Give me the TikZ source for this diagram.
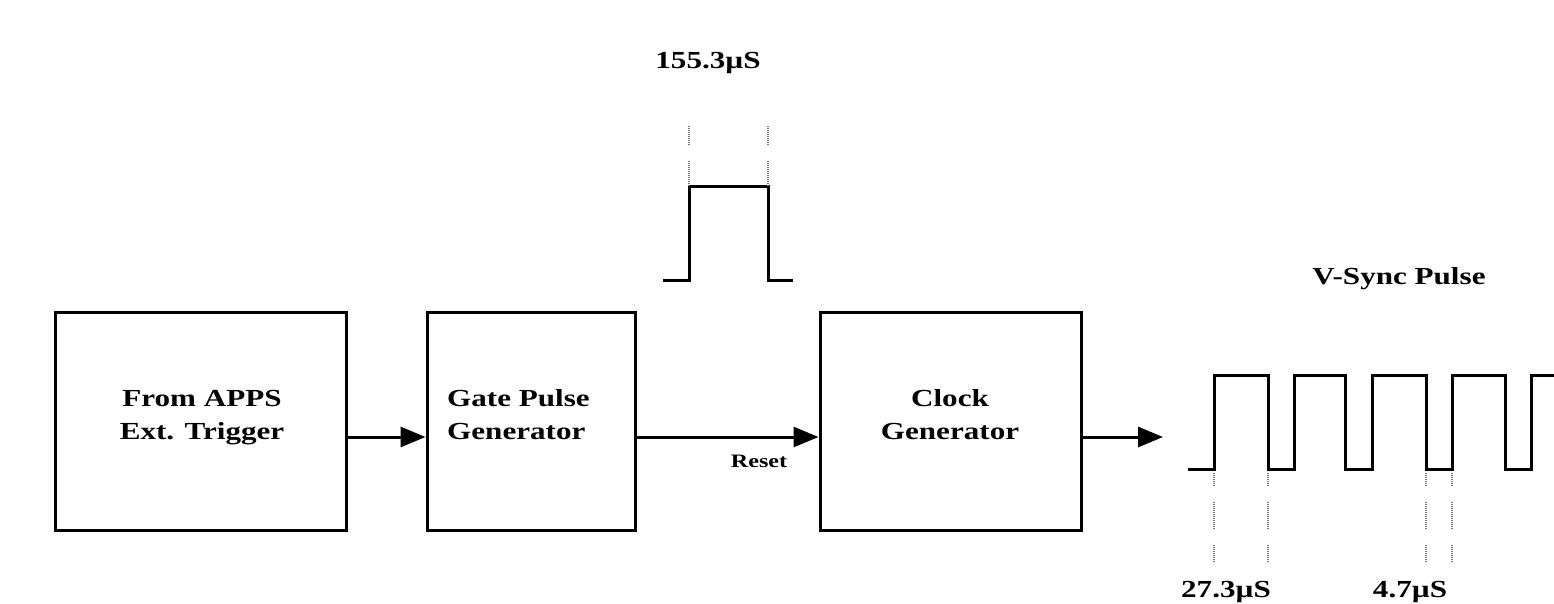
\documentclass[tikz,border=0pt]{standalone}
\usepackage{fontspec}
\setmainfont{Liberation Serif}[FakeStretch=1.27]
\usetikzlibrary{arrows.meta}
\begin{document}
\begin{tikzpicture}[x=1pt,y=-1pt,
  blk/.style={draw=black,line width=3pt,minimum width=#1,minimum height=218pt,inner sep=0pt},
  wire/.style={line width=3pt,-{Triangle[length=25pt,width=20pt]}},
  sig/.style={line width=3pt},
  guide/.style={draw=black!55,line width=1.6pt,dash pattern=on 1pt off 1pt},
  lbl/.style={font=\fontsize{24.5}{33}\selectfont\bfseries,inner sep=0pt,anchor=base},
  small/.style={font=\fontsize{19}{24}\selectfont\bfseries,inner sep=0pt,anchor=base}]
\useasboundingbox (0,0) rectangle (1554,604);
\fill[white] (0,0) rectangle (1554,604);

% blocks
\node[blk=291pt] (b1) at (201,421) {};
\node[blk=208pt] (b2) at (531,421) {};
\node[blk=261pt] (b3) at (950.5,421) {};

% block texts
\node[lbl] (t1a) at (202,406) {From APPS};
\node[lbl] (t1b) at (202,439) {Ext. Trigger};
\node[lbl,anchor=base west] (t2a) at (447,406) {Gate Pulse};
\node[lbl,anchor=base west] (t2b) at (447,439) {Generator};
\node[lbl] (t3a) at (950,406) {Clock};
\node[lbl] (t3b) at (950,439) {Generator};

% connectors
\coordinate (o3) at (1163,437);
\draw[wire] ([yshift=-16pt]b1.east) -- ([yshift=-16pt]b2.west);
\draw[wire] ([yshift=-16pt]b2.east) -- ([yshift=-16pt]b3.west);
\draw[wire] ([yshift=-16pt]b3.east) -- (o3);
\node[small] (rst) at (759,467) {Reset};

% gate pulse
\draw[sig] (663,280) -- (689,280) -- (689,187) -- (768,187) -- (768,280) -- (793,280);
\foreach \x in {689,768}{
  \draw[guide] (\x,126) -- (\x,145);
  \draw[guide] (\x,161) -- (\x,187);
}
\node[lbl] (w1) at (708,69) {155.3µS};

% V-sync waveform
\draw[sig] (1188,469) -- (1214,469) -- (1214,375) -- (1268,375) -- (1268,469)
  -- (1294,469) -- (1294,375) -- (1345,375) -- (1345,469) -- (1372,469)
  -- (1372,375) -- (1426,375) -- (1426,469) -- (1452,469) -- (1452,375)
  -- (1505,375) -- (1505,469) -- (1531,469) -- (1531,375) -- (1556,375);
\foreach \x in {1214,1268,1426,1452}{
  \draw[guide] (\x,473) -- (\x,487);
  \draw[guide] (\x,502) -- (\x,530);
  \draw[guide] (\x,545) -- (\x,562);
}
\node[lbl] (vs) at (1399,284) {V-Sync Pulse};
\node[lbl] (w2) at (1226,597) {27.3µS};
\node[lbl] (w3) at (1410,597) {4.7µS};
\end{tikzpicture}
\end{document}
